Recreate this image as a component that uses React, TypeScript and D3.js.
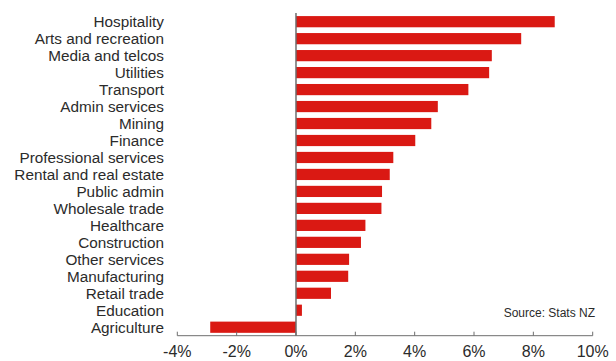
import React from "react";
import * as d3 from "d3";

const categories = [
  "Hospitality",
  "Arts and recreation",
  "Media and telcos",
  "Utilities",
  "Transport",
  "Admin services",
  "Mining",
  "Finance",
  "Professional services",
  "Rental and real estate",
  "Public admin",
  "Wholesale trade",
  "Healthcare",
  "Construction",
  "Other services",
  "Manufacturing",
  "Retail trade",
  "Education",
  "Agriculture",
];

const values = [8.72, 7.59, 6.6, 6.51, 5.81, 4.78, 4.56, 4.02, 3.28, 3.16, 2.9, 2.88, 2.34, 2.19, 1.79, 1.76, 1.18, 0.2, -2.89];

const xTicks = [-4, -2, 0, 2, 4, 6, 8, 10];

const sourceText = "Source: Stats NZ";

export default function App() {
  const W = 616;
  const H = 361;
  const x = d3.scaleLinear().domain([-4, 10]).range([177.3, 592.7]);
  const y = d3
    .scaleBand<string>()
    .domain(categories)
    .range([13.2, 335.7])
    .paddingInner(0.34)
    .paddingOuter(0.17);
  const font = "'Liberation Sans', Arial, sans-serif";
  const axisY = 335.7;
  return (
    <svg
      width={W}
      height={H}
      style={{ position: "absolute", left: 0, top: 0, background: "#fff" }}
      fontFamily={font}
    >
      {categories.map((c, i) => {
        const v = values[i];
        const x0 = x(Math.min(0, v));
        const x1 = x(Math.max(0, v));
        return (
          <rect
            key={c}
            x={x0}
            y={y(c)!}
            width={x1 - x0}
            height={y.bandwidth()}
            fill="#da1913"
          />
        );
      })}
      {categories.map((c) => (
        <text
          key={"l" + c}
          x={164}
          y={y(c)! + y.bandwidth() / 2}
          dy="0.35em"
          textAnchor="end"
          fontSize={15.3}
          fill="#2b2b2b"
        >
          {c}
        </text>
      ))}
      <line x1={x(0)} x2={x(0)} y1={13} y2={axisY} stroke="#6e6e6e" strokeWidth={1.5} />
      <line x1={x(-4)} x2={x(10)} y1={axisY} y2={axisY} stroke="#6e6e6e" strokeWidth={1} />
      {xTicks.map((t) => (
        <g key={"t" + t}>
          <line x1={x(t)} x2={x(t)} y1={axisY - 4} y2={axisY} stroke="#6e6e6e" strokeWidth={1} />
          <text x={x(t)} y={357} textAnchor="middle" fontSize={16} fill="#2b2b2b">
            {t + "%"}
          </text>
        </g>
      ))}
      <text x={595} y={317} textAnchor="end" fontSize={12} fill="#2b2b2b">
        {sourceText}
      </text>
    </svg>
  );
}
